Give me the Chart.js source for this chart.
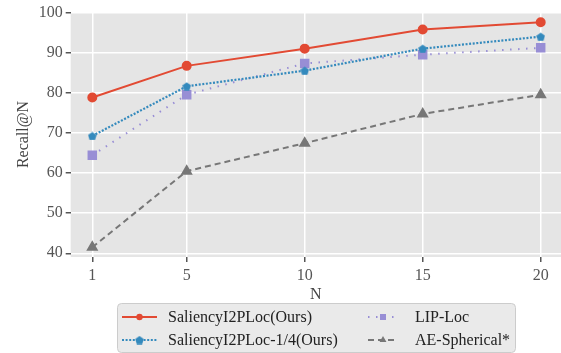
<!DOCTYPE html>
<html>
<head>
<meta charset="utf-8">
<script src="https://cdn.jsdelivr.net/npm/chart.js@4"></script>
<style>
  html, body { margin: 0; padding: 0; background: #fff; overflow: hidden; }
</style>
</head>
<body>
<canvas id="chart" width="561" height="353"></canvas>
<script>
// data
const nValues = [1, 5, 10, 15, 20];
const saliency = [78.9, 86.8, 91.1, 95.9, 97.7];
const saliencyQuarter = [69.3, 81.7, 85.6, 91.1, 94.1];
const lipLoc = [64.5, 79.6, 87.4, 89.6, 91.3];
const aeSpherical = [41.5, 60.5, 67.5, 74.8, 79.6];
const yTicks = [40, 50, 60, 70, 80, 90, 100];
const seriesNames = ['SaliencyI2PLoc(Ours)', 'SaliencyI2PLoc-1/4(Ours)', 'LIP-Loc', 'AE-Spherical*'];

const FONT = "'Liberation Serif', 'DejaVu Serif', serif";

// pentagon marker (chart.js has none)
function pentagon(color, size) {
  const c = document.createElement('canvas');
  c.width = size; c.height = size;
  const g = c.getContext('2d');
  const r = size / 2;
  g.beginPath();
  for (let i = 0; i < 5; i++) {
    const a = -Math.PI / 2 + i * 2 * Math.PI / 5;
    const px = r + r * Math.cos(a), py = r + 0.5 + r * Math.sin(a);
    if (i == 0) g.moveTo(px, py); else g.lineTo(px, py);
  }
  g.closePath();
  g.fillStyle = color;
  g.fill();
  return c;
}

function pts(arr) {
  return arr.map((v, i) => ({ x: nValues[i], y: v }));
}

const plotBg = {
  id: 'plotBg',
  beforeDraw(chart) {
    const a = chart.chartArea, ctx = chart.ctx;
    ctx.save();
    ctx.fillStyle = '#E5E5E5';
    ctx.fillRect(a.left, a.top, a.right - a.left, a.bottom - a.top);
    ctx.restore();
  }
};

// two-column legend under the axes
const boxLegend = {
  id: 'boxLegend',
  afterDraw(chart) {
    const ctx = chart.ctx;
    ctx.save();
    ctx.beginPath();
    ctx.roundRect(117.5, 303.5, 398, 49, 4);
    ctx.fillStyle = 'rgba(229,229,229,0.8)';
    ctx.fill();
    ctx.strokeStyle = '#cccccc';
    ctx.lineWidth = 1;
    ctx.stroke();

    const slots = [
      { x0: 122, x1: 157, tx: 168, y: 317 },
      { x0: 122, x1: 157, tx: 168, y: 340 },
      { x0: 368, x1: 398, tx: 415, y: 317 },
      { x0: 368, x1: 398, tx: 415, y: 340 }
    ];
    chart.data.datasets.forEach((ds, i) => {
      const s = slots[i];
      ctx.beginPath();
      ctx.setLineDash(ds.borderDash || []);
      ctx.strokeStyle = ds.borderColor;
      ctx.lineWidth = ds.borderWidth;
      ctx.moveTo(s.x0, s.y);
      ctx.lineTo(s.x1, s.y);
      ctx.stroke();
      ctx.setLineDash([]);
      ctx.fillStyle = ds.pointBackgroundColor;
      ctx.strokeStyle = ds.pointBackgroundColor;
      Chart.helpers.drawPoint(ctx, {
        pointStyle: ds.pointStyle, radius: ds.pointRadius * 0.8, rotation: 0, borderWidth: 0
      }, (s.x0 + s.x1) / 2, s.y);
      ctx.fillStyle = '#222';
      ctx.font = '16px ' + FONT;
      ctx.textBaseline = 'middle';
      ctx.textAlign = 'left';
      ctx.fillText(ds.label, s.tx, s.y + 1);
    });
    ctx.restore();
  }
};

const ctx = document.getElementById('chart').getContext('2d');
const myChart = new Chart(ctx, {
  type: 'line',
  data: {
    datasets: [
      {
        label: seriesNames[0],
        data: pts(saliency),
        borderColor: '#E24A33',
        pointBackgroundColor: '#E24A33',
        borderWidth: 2,
        pointStyle: 'circle',
        pointRadius: 4
      },
      {
        label: seriesNames[1],
        data: pts(saliencyQuarter),
        borderColor: '#348ABD',
        pointBackgroundColor: '#348ABD',
        borderWidth: 2.2,
        borderDash: [2, 1.6],
        pointStyle: pentagon('#348ABD', 9),
        pointRadius: 4.5
      },
      {
        label: seriesNames[2],
        data: pts(lipLoc),
        borderColor: '#988ED5',
        pointBackgroundColor: '#988ED5',
        borderWidth: 2,
        borderDash: [1.5, 6.5],
        pointStyle: 'rect',
        pointRadius: 5.3
      },
      {
        label: seriesNames[3],
        data: pts(aeSpherical),
        borderColor: '#777777',
        pointBackgroundColor: '#777777',
        borderWidth: 2,
        borderDash: [6, 4],
        pointStyle: 'triangle',
        pointRadius: 5
      }
    ]
  },
  options: {
    responsive: false,
    animation: false,
    layout: { autoPadding: false, padding: { top: 12, left: 0, right: 0, bottom: 49 } },
    plugins: {
      legend: { display: false },
      tooltip: { enabled: false }
    },
    elements: {
      point: { borderWidth: 0 },
      line: { tension: 0 }
    },
    scales: {
      x: {
        type: 'linear',
        min: 0.085,
        max: 20.86,
        afterBuildTicks: (s) => { s.ticks = nValues.map(v => ({ value: v })); },
        afterFit: (s) => { s.height = 47; s.paddingLeft = 0; s.paddingRight = 0; },
        grid: { color: '#ffffff', lineWidth: 1.5, tickColor: '#555', tickLength: 5 },
        border: { display: false },
        ticks: { color: '#555', padding: 4, font: { family: FONT, size: 16 }, maxRotation: 0 },
        title: { display: true, text: 'N', color: '#444', padding: { top: 0, bottom: 0 }, font: { family: FONT, size: 16 } }
      },
      y: {
        min: 39.07,
        max: 100.25,
        afterBuildTicks: (s) => { s.ticks = yTicks.map(v => ({ value: v })); },
        afterFit: (s) => { s.width = 70.7; s.paddingTop = 0; s.paddingBottom = 0; },
        grid: { color: '#ffffff', lineWidth: 1.5, tickColor: '#555', tickLength: 5 },
        border: { display: false },
        ticks: { color: '#555', padding: 3, font: { family: FONT, size: 16 } },
        title: { display: true, text: 'Recall@N', color: '#444', padding: { top: 14, bottom: 0 }, font: { family: FONT, size: 16 } }
      }
    }
  },
  plugins: [plotBg, boxLegend]
});
</script>
</body>
</html>
